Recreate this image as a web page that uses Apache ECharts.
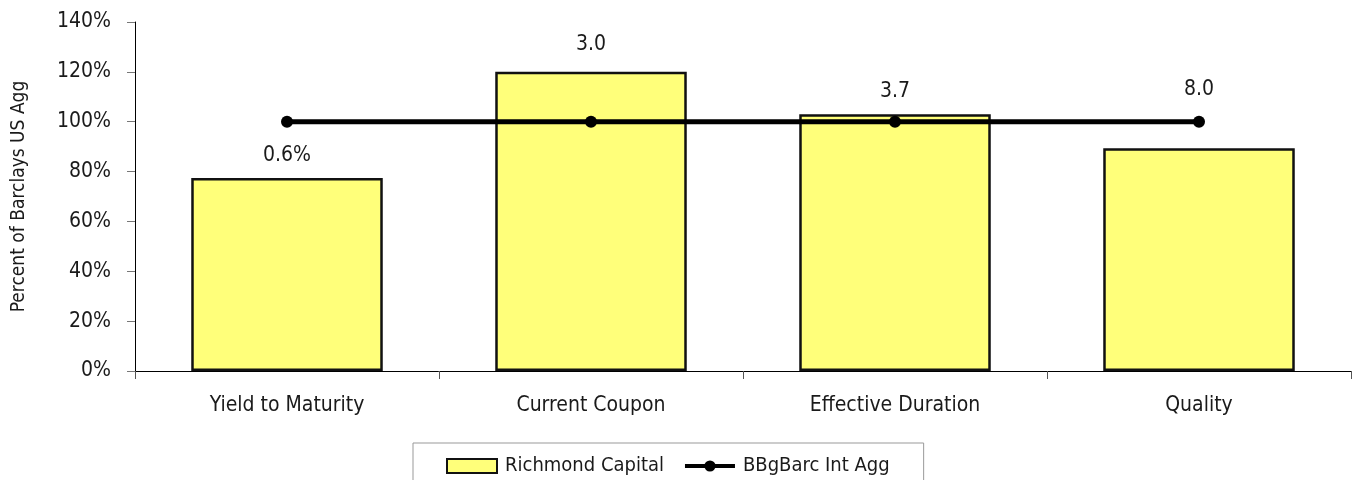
<!DOCTYPE html>
<html><head><meta charset="utf-8">
<script src="https://cdn.jsdelivr.net/npm/echarts@6/dist/echarts.min.js"></script>
<style>html,body{margin:0;padding:0;background:#fff}#c{width:1356px;height:480px}</style>
</head><body><div id="c"></div>
<script>
const categories = ['Yield to Maturity', 'Current Coupon', 'Effective Duration', 'Quality'];
const richmondValues = [77.4, 120, 103, 89.4];
const benchmarkValues = [100, 100, 100, 100];
const statLabels = ['0.6%', '3.0', '3.7', '8.0'];
const labelOnBenchmark = [false, false, false, true];
const yTicks = [0, 20, 40, 60, 80, 100, 120, 140];

const FONT = '"Liberation Sans Narrow", "DejaVu Sans Condensed", "Roboto", sans-serif';
const TXT = '#1a1a1a';

const barData = richmondValues.map((v, i) => ({
  value: v,
  label: {
    show: !labelOnBenchmark[i],
    distance: i === 1 ? 17 : 12
  }
}));
const lineData = benchmarkValues.map((v, i) => ({
  value: v,
  label: { show: labelOnBenchmark[i] }
}));

const chart = echarts.init(document.getElementById('c'));
chart.setOption({
  animation: false,
  textStyle: { fontFamily: FONT, color: TXT },
  grid: { left: 135, right: 5, top: 22, bottom: 109, containLabel: false, outerBoundsMode: 'none' },
  legend: {
    left: 413, top: 443,
    itemGap: 19, itemWidth: 50, itemHeight: 14,
    padding: [13, 34, 20, 33],
    borderColor: '#999', borderWidth: 1,
    textStyle: { fontFamily: FONT, fontSize: 20, color: TXT, padding: [0, 0, 0, 3] },
    data: [
      { name: 'Richmond Capital', icon: 'rect' },
      { name: 'BBgBarc Int Agg', lineStyle: { width: 4, color: '#000' }, itemStyle: { color: '#000' } }
    ]
  },
  xAxis: {
    type: 'category',
    data: categories,
    boundaryGap: true,
    axisLine: { lineStyle: { color: '#000', width: 1 } },
    axisTick: { show: true, length: 8, lineStyle: { color: '#555' } },
    axisLabel: { fontFamily: FONT, fontSize: 21, color: TXT, margin: 24 }
  },
  yAxis: {
    type: 'value',
    min: yTicks[0], max: yTicks[yTicks.length - 1], interval: 20,
    name: 'Percent of Barclays US Agg',
    nameLocation: 'middle', nameGap: 106,
    nameTextStyle: { fontFamily: FONT, fontSize: 19, color: TXT },
    axisLine: { show: true, lineStyle: { color: '#000', width: 1 } },
    axisTick: { show: true, length: 8, lineStyle: { color: '#777' } },
    splitLine: { show: false },
    axisLabel: { fontFamily: FONT, fontSize: 21, color: TXT, margin: 24, formatter: v => v + '%' }
  },
  series: [
    {
      name: 'Richmond Capital',
      type: 'bar',
      data: barData,
      barWidth: '63%',
      itemStyle: { color: '#FFFF7A', borderColor: '#111', borderWidth: 2.5 },
      label: {
        position: 'top',
        fontFamily: FONT, fontSize: 21, color: TXT,
        formatter: p => statLabels[p.dataIndex]
      }
    },
    {
      name: 'BBgBarc Int Agg',
      type: 'line',
      data: lineData,
      symbol: 'circle', symbolSize: 12,
      lineStyle: { color: '#000', width: 5 },
      itemStyle: { color: '#000' },
      label: {
        position: 'top', distance: 16,
        fontFamily: FONT, fontSize: 21, color: TXT,
        formatter: p => statLabels[p.dataIndex]
      },
      z: 5
    }
  ]
});
</script></body></html>
